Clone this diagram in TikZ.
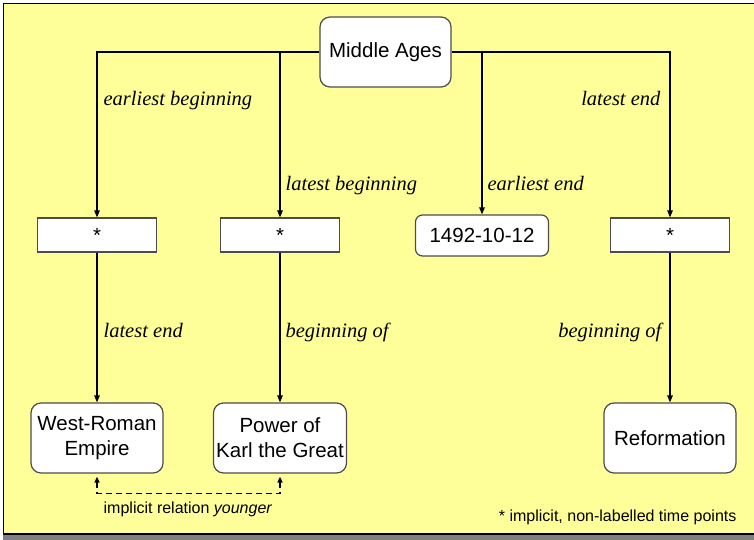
\documentclass[tikz,border=0pt]{standalone}
\usepackage{fontspec}
\setmainfont{Liberation Serif}
\setsansfont{Liberation Sans}
\usetikzlibrary{arrows,arrows.meta,calc}
\definecolor{paleyellow}{RGB}{255,255,153}
\tikzstyle{event} = [draw=black!70, fill=white, rounded corners=10pt, align=center,
	inner sep=0pt, minimum width=132pt, minimum height=70pt,
	font=\sffamily\fontsize{20.5}{25}\selectfont]
\tikzstyle{tpoint} = [draw=black!70, fill=white, inner sep=0pt, minimum width=119pt,
	minimum height=34pt, font=\sffamily\fontsize{20.5}{25}\selectfont]
\tikzstyle{rel} = [font=\itshape\fontsize{20.5}{24}\selectfont, inner sep=0pt]
\tikzstyle{note} = [font=\sffamily\fontsize{16}{19}\selectfont, inner sep=0pt]

\begin{document}
\begin{tikzpicture}[x=1pt,y=-1pt,>={Triangle[length=7pt,width=5.5pt]},line width=1.2pt]
	\useasboundingbox (0,0) rectangle (754,540);
	% panel
	\fill[black!50] (3,534) rectangle (754,540);
	\draw[fill=paleyellow, line width=1.5pt] (3.5,3.5) rectangle (757,534);

	% time points and events
	\node[event, minimum width=131pt] (ages) at (385.5,52) {Middle Ages};
	\node[tpoint] (p1) at (97,235) {*};
	\node[tpoint] (p2) at (280,235) {*};
	\node[event, minimum width=133pt, minimum height=41pt, rounded corners=7pt] (date) at (482,235.5) {1492-10-12};
	\node[tpoint] (p4) at (670,235) {*};
	\node[event] (rome) at (97,438) {West-Roman\\Empire};
	\node[event, minimum width=133pt] (karl) at (280,438) {Power of\\Karl the Great};
	\node[event] (reform) at (670,438) {Reformation};

	\draw[->] (ages.west) -| (p1);
	\draw[->] (ages.west) -| (p2);
	\draw[->] (ages.east) -| (date);
	\draw[->] (ages.east) -| (p4);
	\draw[->] (p1) -- (rome);
	\draw[->] (p2) -- (karl);
	\draw[->] (p4) -- (reform);

	\node[rel, anchor=base west] (eb) at (103,106) {earliest beginning};
	\node[rel, anchor=base west] (lb) at (285,190) {latest beginning};
	\node[rel, anchor=base west] (ee) at (487,190) {earliest end};
	\node[rel, anchor=base east] (le) at (661,106) {latest end};
	\node[rel, anchor=base west] (le2) at (103,337) {latest end};
	\node[rel, anchor=base west] (bo) at (285,337) {beginning of};
	\node[rel, anchor=base east] (bo2) at (662,337) {beginning of};

	% implicit relation
	\draw[<->, line width=1.4pt, dash pattern=on 6pt off 4pt, shorten <=3pt, shorten >=3pt,
		>={Triangle[length=6pt,width=5pt]}]
		(rome.south) -- ++(0,20) -| (karl.south);
	\node[note, anchor=base] (younger) at (188,513) {implicit relation \textit{younger}};
	\node[note, anchor=base east] (foot) at (737,521) {* implicit, non-labelled time points};
\end{tikzpicture}
\end{document}
